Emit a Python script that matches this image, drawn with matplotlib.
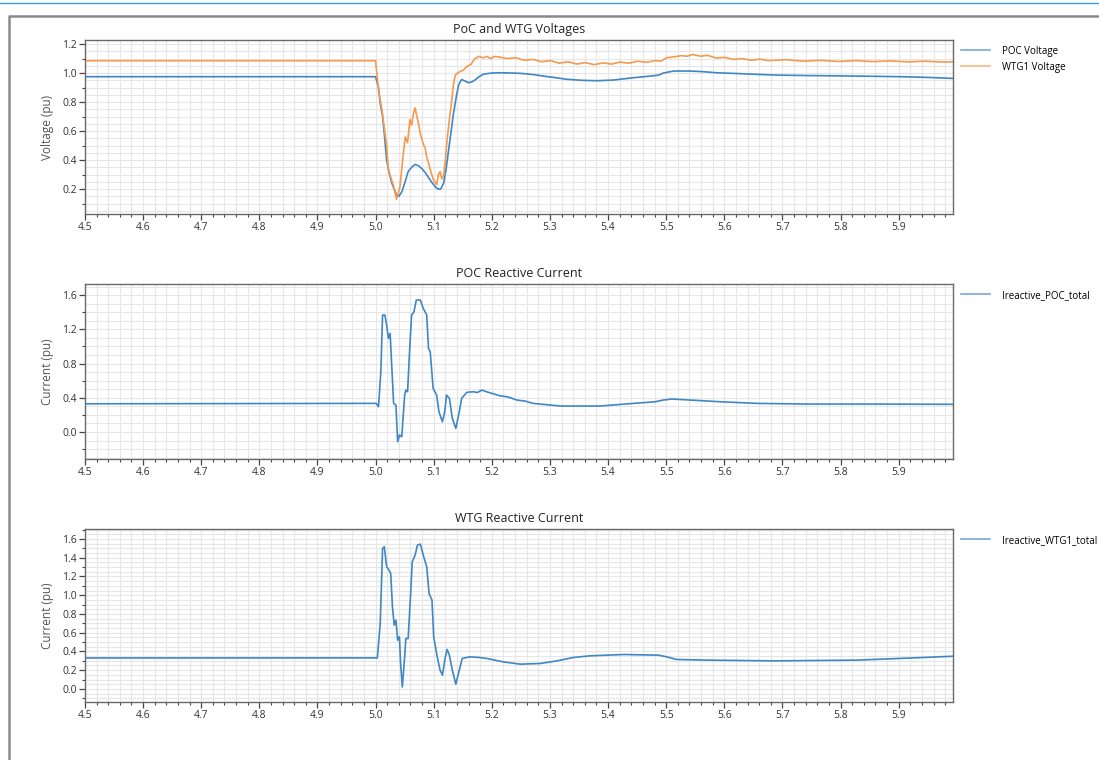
import matplotlib.pyplot as plt
import numpy as np
from matplotlib.lines import Line2D
from matplotlib.ticker import MultipleLocator

plt.rcParams["font.family"] = ["Open Sans", "DejaVu Sans"]

# PoC and WTG voltages (pu)
t_poc_v = [
    4.5, 5.0, 5.005, 5.008, 5.012, 5.015, 5.019, 5.024, 5.028, 5.032,
    5.036, 5.040, 5.045, 5.050, 5.056, 5.062, 5.068, 5.074, 5.080, 5.086,
    5.091, 5.096, 5.100, 5.104, 5.108, 5.112, 5.117, 5.121, 5.125, 5.130,
    5.134, 5.139, 5.143, 5.148, 5.154, 5.160, 5.166, 5.171, 5.178, 5.186,
    5.200, 5.214, 5.230, 5.249, 5.271, 5.289, 5.310, 5.329, 5.355, 5.381,
    5.410, 5.444, 5.470, 5.487, 5.495, 5.505, 5.513, 5.541, 5.565, 5.587,
    5.620, 5.650, 5.690, 5.740, 5.788, 5.850, 5.903, 5.950, 5.995,
]
poc_voltage = [
    0.975, 0.975, 0.90, 0.79, 0.70, 0.58, 0.40, 0.30, 0.24, 0.20,
    0.16, 0.15, 0.18, 0.24, 0.32, 0.35, 0.37, 0.36, 0.34, 0.31,
    0.28, 0.25, 0.23, 0.21, 0.20, 0.20, 0.24, 0.33, 0.45, 0.60,
    0.72, 0.84, 0.92, 0.955, 0.945, 0.933, 0.94, 0.952, 0.975, 0.993,
    1.0, 1.002, 1.001, 0.998, 0.99, 0.979, 0.968, 0.957, 0.95, 0.947,
    0.952, 0.968, 0.978, 0.986, 1.0, 1.008, 1.014, 1.014, 1.009, 1.002,
    0.997, 0.992, 0.986, 0.983, 0.981, 0.978, 0.975, 0.97, 0.963,
]
t_wtg_v = [
    4.5, 5.0, 5.005, 5.011, 5.015, 5.019, 5.022, 5.027, 5.031, 5.036,
    5.039, 5.042, 5.046, 5.051, 5.055, 5.059, 5.062, 5.065, 5.068, 5.071,
    5.074, 5.077, 5.080, 5.083, 5.085, 5.088, 5.091, 5.095, 5.100, 5.105,
    5.108, 5.111, 5.114, 5.117, 5.120, 5.123, 5.127, 5.131, 5.134, 5.137,
    5.141, 5.145, 5.151, 5.157, 5.164, 5.171, 5.178, 5.185, 5.191, 5.198,
    5.205, 5.214, 5.226, 5.241, 5.256, 5.271, 5.286, 5.301, 5.316, 5.331,
    5.346, 5.361, 5.376, 5.391, 5.406, 5.421, 5.436, 5.451, 5.466, 5.481,
    5.491, 5.501, 5.514, 5.526, 5.536, 5.546, 5.559, 5.571, 5.586, 5.601,
    5.616, 5.631, 5.646, 5.661, 5.676, 5.706, 5.736, 5.766, 5.796, 5.826,
    5.856, 5.886, 5.916, 5.946, 5.976, 5.995,
]
wtg_voltage = [
    1.085, 1.085, 0.88, 0.745, 0.62, 0.50, 0.33, 0.27, 0.22, 0.13,
    0.17, 0.22, 0.38, 0.56, 0.52, 0.68, 0.64, 0.72, 0.76, 0.70,
    0.65, 0.58, 0.54, 0.50, 0.49, 0.42, 0.38, 0.32, 0.26, 0.23,
    0.30, 0.32, 0.27, 0.29, 0.40, 0.54, 0.68, 0.81, 0.92, 0.985,
    1.0, 1.01, 1.02, 1.045, 1.06, 1.10, 1.115, 1.105, 1.115, 1.10,
    1.115, 1.11, 1.100, 1.106, 1.088, 1.094, 1.078, 1.086, 1.068, 1.078,
    1.062, 1.072, 1.058, 1.070, 1.062, 1.076, 1.068, 1.082, 1.074, 1.086,
    1.082, 1.106, 1.112, 1.120, 1.116, 1.128, 1.116, 1.122, 1.104, 1.108,
    1.094, 1.100, 1.088, 1.096, 1.086, 1.092, 1.082, 1.088, 1.080, 1.086,
    1.079, 1.084, 1.077, 1.082, 1.076, 1.078,
]

# POC reactive current (pu)
t_poc_i = [
    4.5, 5.001, 5.005, 5.009, 5.012, 5.016, 5.019, 5.022, 5.025, 5.028,
    5.031, 5.035, 5.038, 5.041, 5.045, 5.050, 5.052, 5.055, 5.059, 5.062,
    5.066, 5.070, 5.077, 5.082, 5.088, 5.091, 5.094, 5.099, 5.105, 5.109,
    5.115, 5.119, 5.122, 5.127, 5.132, 5.138, 5.144, 5.148, 5.157, 5.168,
    5.175, 5.183, 5.191, 5.200, 5.214, 5.228, 5.243, 5.257, 5.271, 5.283,
    5.318, 5.386, 5.444, 5.481, 5.495, 5.510, 5.541, 5.593, 5.656, 5.742,
    5.857, 5.995,
]
poc_ireactive = [
    0.33, 0.335, 0.296, 0.70, 1.367, 1.367, 1.25, 1.095, 1.153, 0.744,
    0.335, 0.315, -0.113, -0.035, -0.055, 0.432, 0.49, 0.47, 1.016, 1.367,
    1.405, 1.542, 1.542, 1.445, 1.367, 0.978, 0.938, 0.51, 0.432, 0.237,
    0.12, 0.237, 0.432, 0.393, 0.16, 0.043, 0.237, 0.393, 0.464, 0.471,
    0.462, 0.49, 0.471, 0.452, 0.424, 0.41, 0.374, 0.362, 0.335, 0.327,
    0.304, 0.304, 0.335, 0.354, 0.374, 0.386, 0.374, 0.354, 0.335, 0.327,
    0.327, 0.324,
]

# WTG reactive current (pu)
t_wtg_i = [
    4.5, 5.003, 5.008, 5.012, 5.015, 5.019, 5.023, 5.026, 5.029, 5.032,
    5.035, 5.038, 5.041, 5.043, 5.046, 5.050, 5.052, 5.056, 5.060, 5.063,
    5.068, 5.072, 5.077, 5.082, 5.088, 5.092, 5.097, 5.100, 5.106, 5.111,
    5.115, 5.120, 5.123, 5.127, 5.132, 5.138, 5.144, 5.149, 5.162, 5.179,
    5.191, 5.220, 5.249, 5.283, 5.312, 5.340, 5.369, 5.427, 5.487, 5.501,
    5.518, 5.570, 5.685, 5.828, 5.914, 5.995,
]
wtg_ireactive = [
    0.33, 0.331, 0.699, 1.50, 1.517, 1.303, 1.268, 1.233, 0.876, 0.68,
    0.734, 0.52, 0.556, 0.271, 0.021, 0.342, 0.538, 0.538, 0.983, 1.357,
    1.428, 1.535, 1.546, 1.428, 1.303, 1.019, 0.948, 0.556, 0.342, 0.2,
    0.146, 0.342, 0.421, 0.36, 0.2, 0.05, 0.2, 0.325, 0.342, 0.335,
    0.325, 0.288, 0.264, 0.271, 0.299, 0.335, 0.353, 0.367, 0.36, 0.342,
    0.314, 0.307, 0.299, 0.307, 0.328, 0.349,
]

x_ticks = [4.5, 4.6, 4.7, 4.8, 4.9, 5.0, 5.1, 5.2, 5.3, 5.4, 5.5, 5.6, 5.7, 5.8, 5.9]

BLUE = "#3f86c6"
ORANGE = "#f5994e"
W, H = 1099, 760

fig = plt.figure(figsize=(W / 100, H / 100), dpi=100)

# window frame around the plots
fig.add_artist(Line2D([0, 1], [1 - 3 / H, 1 - 3 / H], color="#2ea3e3", lw=1.0))
fig.add_artist(Line2D([8.5 / W, 8.5 / W, 1], [0, 1 - 16 / H, 1 - 16 / H],
                      color="#8a8a8a", lw=1.8))

panels = [
    # top, bottom pixel rows; y range; major, minor, grid step
    (40, 214, (0.028, 1.228), 0.2, 0.1, 0.05),
    (284, 459, (-0.315, 1.73), 0.4, 0.2, 0.1),
    (529, 702, (-0.14, 1.707), 0.2, 0.1, 0.05),
]
titles = ["PoC and WTG Voltages", "POC Reactive Current", "WTG Reactive Current"]
ylabels = ["Voltage (pu)", "Current (pu)", "Current (pu)"]

axes = []
for (top, bot, ylim, major, minor, gstep), title, ylabel in zip(panels, titles, ylabels):
    ax = fig.add_axes([85 / W, 1 - bot / H, (953.3 - 85) / W, (bot - top) / H])
    ax.set_xlim(4.5, 5.994)
    ax.set_ylim(*ylim)
    ax.set_xticks(x_ticks)
    ax.xaxis.set_minor_locator(MultipleLocator(0.02))
    ax.yaxis.set_major_locator(MultipleLocator(major))
    ax.yaxis.set_minor_locator(MultipleLocator(minor))
    ax.yaxis.set_major_formatter(plt.FormatStrFormatter("%.1f"))
    ax.xaxis.set_major_formatter(plt.FormatStrFormatter("%.1f"))
    ax.grid(True, which="both", axis="x", color="#e6e6e6", lw=0.8)
    for g in np.arange(np.ceil(ylim[0] / gstep) * gstep, ylim[1], gstep):
        ax.axhline(g, color="#e6e6e6", lw=0.8, zorder=0)
    ax.set_axisbelow(True)
    ax.tick_params(which="major", length=4, width=0.9, color="#444",
                   labelsize=7.5, labelcolor="#333", pad=2)
    ax.tick_params(which="minor", length=2.5, width=0.8, color="#444")
    for s in ax.spines.values():
        s.set_color("#6a6a6a")
        s.set_linewidth(1.0)
    ax.set_title(title, fontsize=9, color="#222", pad=5)
    ax.set_ylabel(ylabel, fontsize=8.5, color="#555", labelpad=6)
    axes.append(ax)

ax1, ax2, ax3 = axes
ax1.plot(t_poc_v, poc_voltage, color=BLUE, lw=1.2, label="POC Voltage")
ax1.plot(t_wtg_v, wtg_voltage, color=ORANGE, lw=1.2, label="WTG1 Voltage")
ax2.plot(t_poc_i, poc_ireactive, color=BLUE, lw=1.2, label="Ireactive_POC_total")
ax3.plot(t_wtg_i, wtg_ireactive, color=BLUE, lw=1.2, label="Ireactive_WTG1_total")

for ax, top in zip(axes, [40, 284, 529]):
    leg = ax.legend(loc="upper left", bbox_to_anchor=(957 / W, 1 - (top + 2) / H),
                    bbox_transform=fig.transFigure, frameon=False, fontsize=7,
                    handlelength=3.0, handletextpad=1.2, labelspacing=0.5,
                    borderaxespad=0)
    for line in leg.get_lines():
        line.set_alpha(0.7)

fig.savefig("out.png", dpi=100)
plt.close(fig)
